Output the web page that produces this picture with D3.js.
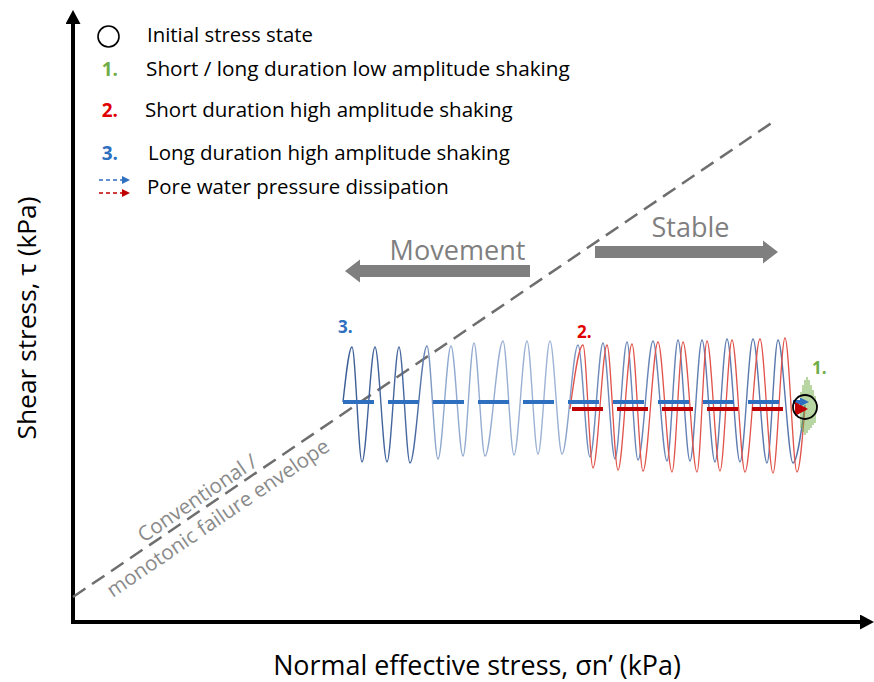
<!DOCTYPE html>
<html><head><meta charset="utf-8">
<script src="https://cdn.jsdelivr.net/npm/d3@7"></script>
<style>body{margin:0;background:#fff}svg{display:block}</style>
</head><body><svg id="c" width="874" height="682"></svg>
<script>
// ---------------- data (arbitrary kPa units) ----------------
const envelopeSigma = [0, 700];
const envelopeTau   = [25, 500];

// case 3 – long duration high amplitude shaking (extrema of the cycles)
const blueSigma = [270,279,289,302,314,326,337,354,365,378,390,401,412,430,441,454,465,477,489,505,517,530,542,554,565,580,594,605,617,629,642,654,667,680,694,705,720,732];
const blueTau   = [220,275,160,275,160,275,159,276,163,276,166,279,166,281,167,281,168,281,168,277,165,279,163,280,162,281,161,282,161,282,160,283,160,283,159,282,159,217];

// case 2 – short duration high amplitude shaking
const redSigma = [497,510,520,534,545,559,570,585,599,610,624,634,647,659,672,687,700,712,724,732];
const redTau   = [213,277,154,277,152,278,151,280,150,280,150,281,151,282,150,283,149,284,150,215];

// case 1 – low amplitude shaking
const greenSigma  = [728,730,732,734,736,738,740,742];
const greenTop    = [230,237,242,245,242,237,232,226];
const greenBottom = [194,190,187,189,192,194,197,199];

// pore water pressure dissipation paths (sigma from, sigma to, tau)
const dissipationSigmaFrom = [270, 499];
const dissipationSigmaTo   = [727, 722];
const dissipationTau       = [220, 213];

// initial stress state
const initialSigma = 732, initialTau = 215;

// movement / stable annotation arrows
const zoneLabels    = ["Movement", "Stable"];
const zoneSigmaFrom = [457, 522];
const zoneSigmaTo   = [272, 705];
const zoneTau       = [351, 370];

// legend
const legendNumbers = ["", "1.", "2.", "3.", ""];
const legendLabels  = ["Initial stress state", "Short / long duration low amplitude shaking",
  "Short duration high amplitude shaking", "Long duration high amplitude shaking",
  "Pore water pressure dissipation"];

// ---------------- drawing ----------------
const FONT = "'Open Sans', 'Noto Sans', sans-serif";
const C = {green:"#70ad47", red:"#e00000", blue:"#2e6fc0", darkRed:"#c00000",
           grey:"#7f7f7f", env:"#6e6e6e", redWave:"#e0524a"};
const svg = d3.select("#c");
const x = d3.scaleLinear().domain([0, 787]).range([73, 860]);
const y = d3.scaleLinear().domain([0, 598]).range([622, 24]);

function fit(sel, w){
  const cur = sel.node().getComputedTextLength();
  sel.attr("font-size", parseFloat(sel.attr("font-size")) * w / cur);
  return sel;
}

const defs = svg.append("defs");
function marker(id, color, len, half){
  defs.append("marker").attr("id", id).attr("markerUnits","userSpaceOnUse")
    .attr("viewBox", `0 ${-half} ${len} ${2*half}`).attr("refX", 0).attr("refY", 0)
    .attr("markerWidth", len).attr("markerHeight", 2*half).attr("orient","auto")
    .append("path").attr("d", `M0,${-half}L${len},0L0,${half}Z`).attr("fill", color);
}
marker("axArrow", "#000", 14, 7.5);
marker("headBlue", C.blue, 9, 4.5);
marker("headRed", C.darkRed, 13, 7);
marker("lgBlue", C.blue, 8, 4);
marker("lgRed", C.darkRed, 8, 4);

const grad = defs.append("linearGradient").attr("id","blueGrad")
  .attr("gradientUnits","userSpaceOnUse")
  .attr("x1", x(blueSigma[0])).attr("x2", x(blueSigma[blueSigma.length-1])).attr("y1",0).attr("y2",0);
[[0,"#3b5d95"],[0.16,"#4a6aa2"],[0.2,"#8ea7cd"],[0.46,"#9fb4d6"],[0.52,"#6f8cbb"],[1,"#5574aa"]]
  .forEach(([o,c]) => grad.append("stop").attr("offset",o).attr("stop-color",c));

// axes (d3 axes without ticks, thick with arrow heads)
const gx = svg.append("g").attr("transform", `translate(0,${y(0)})`)
  .call(d3.axisBottom(x).ticks(0).tickSizeOuter(0));
gx.select(".domain").remove();
const gy = svg.append("g").attr("transform", `translate(${x(0)},0)`)
  .call(d3.axisLeft(y).ticks(0).tickSizeOuter(0));
gy.select(".domain").remove();
svg.append("line").attr("x1", x(0)-2).attr("x2", x(787)).attr("y1", y(0)).attr("y2", y(0))
  .attr("stroke","#000").attr("stroke-width",4).attr("marker-end","url(#axArrow)");
svg.append("line").attr("x1", x(0)).attr("x2", x(0)).attr("y1", y(0)+2).attr("y2", y(598))
  .attr("stroke","#000").attr("stroke-width",4).attr("marker-end","url(#axArrow)");

// axis titles
fit(svg.append("text").attr("x", 477).attr("y", 675).attr("text-anchor","middle")
  .attr("font-family", FONT).attr("font-size", 24).attr("fill","#000")
  .text("Normal effective stress, σn’ (kPa)"), 408);
fit(svg.append("text").attr("transform","translate(36,318) rotate(-90)").attr("text-anchor","middle")
  .attr("font-family", FONT).attr("font-size", 24).attr("fill","#000")
  .text("Shear stress, τ (kPa)"), 243);

// failure envelope
const lineFn = d3.line().x(d => x(d[0])).y(d => y(d[1]));
svg.append("path").datum(d3.zip(envelopeSigma, envelopeTau)).attr("d", lineFn)
  .attr("fill","none").attr("stroke", C.env).attr("stroke-width", 2.5).attr("stroke-dasharray","15 8");
const ang = Math.atan2(y(envelopeTau[1]) - y(envelopeTau[0]), x(envelopeSigma[1]) - x(envelopeSigma[0])) * 180 / Math.PI;
const slope = (envelopeTau[1]-envelopeTau[0])/(envelopeSigma[1]-envelopeSigma[0]);
const envG = svg.append("g")
  .attr("transform", `translate(${x(131)},${y(envelopeTau[0] + slope*131)}) rotate(${ang})`);
fit(envG.append("text").attr("x", 0).attr("y", -5).attr("text-anchor","middle")
  .attr("font-family", FONT).attr("font-size", 17).attr("fill","#8a8a8a").text("Conventional /"), 139);
fit(envG.append("text").attr("x", 6).attr("y", 23).attr("text-anchor","middle")
  .attr("font-family", FONT).attr("font-size", 17).attr("fill","#8a8a8a").text("monotonic failure envelope"), 264);

// zone arrows
function blockArrow(x0, x1, yc, hs, hl, hh){
  const dir = Math.sign(x1 - x0), xb = x1 - dir*hl;
  return `M${x0},${yc-hs}L${xb},${yc-hs}L${xb},${yc-hh}L${x1},${yc}L${xb},${yc+hh}L${xb},${yc+hs}L${x0},${yc+hs}Z`;
}
const zoneTextShift = [20, 4], zoneTextW = [136, 78], zoneTextLift = [11, 15];
zoneLabels.forEach((lab, i) => {
  svg.append("path").attr("d", blockArrow(x(zoneSigmaFrom[i]), x(zoneSigmaTo[i]), y(zoneTau[i]), 6, 15, 11.5))
    .attr("fill", C.grey);
  const cx = (x(zoneSigmaFrom[i]) + x(zoneSigmaTo[i]))/2;
  fit(svg.append("text").attr("x", cx + zoneTextShift[i]).attr("y", y(zoneTau[i]) - zoneTextLift[i])
    .attr("text-anchor","middle").attr("font-family", FONT).attr("font-size", 27).attr("fill", C.grey)
    .text(lab), zoneTextW[i]);
});

// waves
const waveFn = d3.line().x(d => x(d[0])).y(d => y(d[1])).curve(d3.curveMonotoneX);
svg.append("path").datum(d3.zip(blueSigma, blueTau)).attr("d", waveFn)
  .attr("fill","none").attr("stroke","url(#blueGrad)").attr("stroke-width", 1.4);
svg.append("path").datum(d3.zip(redSigma, redTau)).attr("d", waveFn)
  .attr("fill","none").attr("stroke", C.redWave).attr("stroke-width", 1.3);

// low amplitude shaking
svg.append("g").selectAll("line").data(d3.range(greenSigma.length)).join("line")
  .attr("x1", i => x(greenSigma[i])).attr("x2", i => x(greenSigma[i]))
  .attr("y1", i => y(greenTop[i])).attr("y2", i => y(greenBottom[i]))
  .attr("stroke", C.green).attr("stroke-width", 1);

// dissipation dashed arrows
const dissColors = [C.blue, C.darkRed], dissHeads = ["headBlue","headRed"];
dissipationTau.forEach((t, i) => {
  svg.append("line").attr("x1", x(dissipationSigmaFrom[i])).attr("x2", x(dissipationSigmaTo[i]))
    .attr("y1", y(t)).attr("y2", y(t)).attr("stroke", dissColors[i]).attr("stroke-width", 4)
    .attr("stroke-dasharray","31 14").attr("marker-end", `url(#${dissHeads[i]})`);
});

// initial stress state
svg.append("circle").attr("cx", x(initialSigma)).attr("cy", y(initialTau)).attr("r", 12)
  .attr("fill","none").attr("stroke","#000").attr("stroke-width", 1.8);

// case numbers in plot
function num(t, xx, yy, col){
  svg.append("text").attr("x", xx).attr("y", yy).attr("fill", col)
    .attr("font-family", FONT).attr("font-weight","bold").attr("font-size", 17).text(t);
}
num("3.", x(blueSigma[0]) - 5, y(blueTau[1]) - 14, C.blue);
num("2.", x(redSigma[0]) + 7, y(d3.max(redTau)), C.red);
num("1.", x(initialSigma) + 7, y(d3.max(greenTop)) - 3, C.green);

// legend
const lgBase = [42, 76, 117, 160, 194], lgX = [147, 146, 145, 148, 147], lgW = [166, 424, 368, 362, 302];
const numColors = ["", C.green, C.red, C.blue, ""];
legendLabels.forEach((lab, i) => {
  fit(svg.append("text").attr("x", lgX[i]).attr("y", lgBase[i]).attr("font-family", FONT)
    .attr("font-size", 20).attr("fill","#000").text(lab), lgW[i]);
  if (legendNumbers[i]) {
    svg.append("text").attr("x", 118).attr("y", lgBase[i]).attr("text-anchor","end")
      .attr("font-family", FONT).attr("font-weight","bold").attr("font-size", 19)
      .attr("fill", numColors[i]).text(legendNumbers[i]);
  }
});
svg.append("circle").attr("cx", 108.5).attr("cy", 36.5).attr("r", 10.5)
  .attr("fill","none").attr("stroke","#000").attr("stroke-width", 1.6);
[[180, C.blue, "lgBlue"], [193, C.darkRed, "lgRed"]].forEach(([yy, col, mk]) => {
  svg.append("line").attr("x1", 99).attr("x2", 122).attr("y1", yy).attr("y2", yy)
    .attr("stroke", col).attr("stroke-width", 1.3).attr("stroke-dasharray","4 3")
    .attr("marker-end", `url(#${mk})`);
});
</script></body></html>
